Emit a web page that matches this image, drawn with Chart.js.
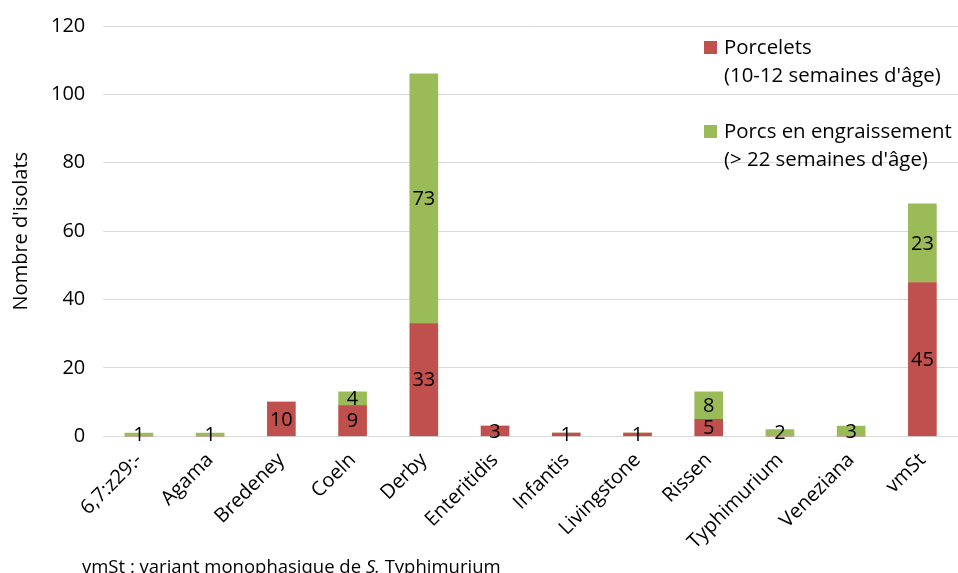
<!DOCTYPE html>
<html>
<head>
<meta charset="utf-8">
<script src="https://cdn.jsdelivr.net/npm/chart.js@4.4.1/dist/chart.umd.min.js"></script>
<style>
  html, body { margin: 0; padding: 0; background: #fff; }
  #wrap { position: relative; width: 958px; height: 573px; font-family: "Open Sans", sans-serif; color: #000; overflow: hidden; }
  #chart { display: block; margin-top: -4px; }
  #legend { position: absolute; left: 704px; top: 32px; font-size: 20.4px; line-height: 28px; }
  .item { position: relative; padding-left: 20px; margin-bottom: 28px; white-space: nowrap; }
  .sw { position: absolute; left: 0; top: 9px; width: 13px; height: 13px; }
  #note { position: absolute; left: 82px; top: 553px; font-size: 18.5px; white-space: nowrap; }
</style>
</head>
<body>
<div id="wrap">
  <canvas id="chart" width="958" height="577"></canvas>
  <div id="legend">
    <div class="item"><span class="sw" style="background:#C0504D"></span>Porcelets<br>(10-12 semaines d'âge)</div>
    <div class="item"><span class="sw" style="background:#9BBB59"></span>Porcs en engraissement<br>(&gt; 22 semaines d'âge)</div>
  </div>
  <div id="note">vmSt : variant monophasique de <i>S.</i> Typhimurium</div>
</div>
<script>
const categories = ['6,7:z29:-', 'Agama', 'Bredeney', 'Coeln', 'Derby', 'Enteritidis', 'Infantis', 'Livingstone', 'Rissen', 'Typhimurium', 'Veneziana', 'vmSt'];
const porcelets = [0, 0, 10, 9, 33, 3, 1, 1, 5, 0, 0, 45];
const engraissement = [1, 1, 0, 4, 73, 0, 0, 0, 8, 2, 3, 23];

const FONT = '"Open Sans", sans-serif';

// labels in the middle of each segment, zero values skipped
const segmentLabels = {
    id: 'segmentLabels',
    afterDatasetsDraw(chart) {
        const ctx = chart.ctx;
        ctx.save();
        ctx.font = '20px ' + FONT;
        ctx.fillStyle = '#000';
        ctx.textAlign = 'center';
        ctx.textBaseline = 'middle';
        chart.data.datasets.forEach((ds, i) => {
            chart.getDatasetMeta(i).data.forEach((bar, j) => {
                const v = ds.data[j];
                if (!v) return;
                const p = bar.getProps(['x', 'y', 'base'], true);
                ctx.fillText(String(v), p.x, (p.y + p.base) / 2 + 1);
            });
        });
        ctx.restore();
    }
};

new Chart(document.getElementById('chart'), {
    type: 'bar',
    data: {
        labels: categories,
        datasets: [
            { label: "Porcelets (10-12 semaines d'âge)", data: porcelets, backgroundColor: '#C0504D' },
            { label: "Porcs en engraissement (> 22 semaines d'âge)", data: engraissement, backgroundColor: '#9BBB59' }
        ]
    },
    options: {
        responsive: false,
        animation: false,
        layout: { padding: { top: 0, right: 0, bottom: 15, left: 3 } },
        datasets: { bar: { barThickness: 28 } },
        plugins: { legend: { display: false }, tooltip: { enabled: false } },
        scales: {
            x: {
                stacked: true,
                grid: { display: false },
                border: { color: '#d9d9d9', width: 1 },
                ticks: {
                    color: '#000',
                    font: { family: FONT, size: 20 },
                    minRotation: 45, maxRotation: 45, padding: 4
                }
            },
            y: {
                stacked: true,
                min: 0, max: 120,
                grid: { color: '#d9d9d9', drawTicks: false },
                border: { display: false },
                ticks: {
                    stepSize: 20, color: '#000', padding: 18,
                    font: { family: FONT, size: 20 }
                },
                title: {
                    display: true, text: "Nombre d'isolats", color: '#000', padding: { top: 6, bottom: 0 },
                    font: { family: FONT, size: 20 }
                }
            }
        }
    },
    plugins: [segmentLabels]
});
</script>
</body>
</html>
